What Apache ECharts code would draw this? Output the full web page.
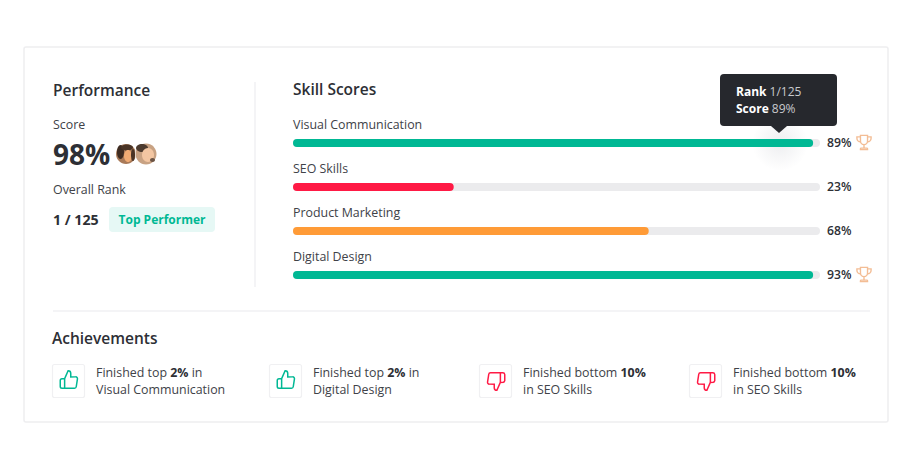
<!DOCTYPE html>
<html>
<head>
<meta charset="utf-8">
<style>
  html, body { margin: 0; padding: 0; background: #fff; }
  #chart { width: 914px; height: 470px; }
</style>
<script src="https://cdn.jsdelivr.net/npm/echarts@6/dist/echarts.min.js"></script>
</head>
<body>
<div id="chart"></div>
<script>
(function() {
  var font = '"Open Sans", "Noto Sans", sans-serif';
  var ink = '#2d2f35';
  var body = '#404248';
  var teal = '#00b894';
  var red = '#ff1a45';
  var orange = '#ff9b37';
  var track = '#ebebed';
  var line = '#f1f1f3';

  // --- Skill data ---
  var categories = ['Visual Communication', 'SEO Skills', 'Product Marketing', 'Digital Design'];
  var fillValues = [98.7, 30.5, 67.5, 98.7];   // drawn bar length, does not follow the printed score
  var scoreLabels = ['89%', '23%', '68%', '93%'];
  var barColors = [teal, red, orange, teal];
  var hasTrophy = [true, false, false, true];
  var trackValues = [100, 100, 100, 100];

  // --- Achievements ---
  var achieveFirst = [
    ['Finished top ', '2%', ' in'],
    ['Finished top ', '2%', ' in'],
    ['Finished bottom ', '10%', ''],
    ['Finished bottom ', '10%', '']
  ];
  var achieveSecond = ['Visual Communication', 'Digital Design', 'in SEO Skills', 'in SEO Skills'];
  var achieveUp = [true, true, false, false];
  var achieveX = [52, 269, 479, 689];

  // the graphic component has no plain path type, so register the icons as shapes
  var reg = echarts.graphic;
  reg.registerShape('thumbUp', reg.extendPath('M14 9V5a3 3 0 0 0-3-3l-4 9v11h11.28a2 2 0 0 0 2-1.7l1.38-9a2 2 0 0 0-2-2.3zM7 22H4a2 2 0 0 1-2-2v-7a2 2 0 0 1 2-2h3', {}));
  reg.registerShape('thumbDown', reg.extendPath('M10 15v4a3 3 0 0 0 3 3l4-9V2H5.72a2 2 0 0 0-2 1.7l-1.38 9a2 2 0 0 0 2 2.3zm7-13h2.67A2.31 2.31 0 0 1 22 4v7a2.31 2.31 0 0 1-2.33 2H17', {}));
  reg.registerShape('trophy', reg.extendPath('M7 2h10v8a5 5 0 0 1-10 0zM7 4H2v2a5 5 0 0 0 5 5M17 4h5v2a5 5 0 0 1-5 5M12 15v5M7 22v-1a1 1 0 0 1 1-1h8a1 1 0 0 1 1 1v1z', {}));

  function text(x, y, str, size, weight, color, align) {
    return {
      type: 'text', x: x, y: y, silent: true, z: 10,
      style: {
        text: str, fontSize: size, fontWeight: weight, fontFamily: font,
        fill: color || ink, textVerticalAlign: 'middle', textAlign: align || 'left'
      }
    };
  }

  function richText(x, y, parts) {
    return {
      type: 'text', x: x, y: y, silent: true, z: 10,
      style: {
        text: parts[0] + '{b|' + parts[1] + '}' + parts[2],
        fontSize: 12.4, fontWeight: 400, fontFamily: font, fill: body,
        textVerticalAlign: 'middle',
        rich: { b: { fontSize: 12.4, fontWeight: 700, fontFamily: font, fill: ink } }
      }
    };
  }

  function tipLine(y, key, val) {
    return {
      type: 'text', x: 736, y: y, silent: true, z: 21,
      style: {
        text: '{b|' + key + '} ' + val, fontSize: 12, fontFamily: font, fill: '#c9cace', textVerticalAlign: 'middle',
        rich: { b: { fontSize: 12, fontWeight: 700, fontFamily: font, fill: '#fff' } }
      }
    };
  }

  function icon(shape, cx, cy, size, color, width) {
    var k = size / 24;
    return {
      type: shape, silent: true, z: 10,
      x: cx - size / 2, y: cy - size / 2, scaleX: k, scaleY: k,
      style: { fill: 'none', stroke: color, lineWidth: width / k }
    };
  }

  function blob(cx, cy, rx, ry, color, z) {
    return { type: 'ellipse', silent: true, z: z, shape: { cx: cx, cy: cy, rx: rx, ry: ry }, style: { fill: color } };
  }

  var graphics = [
    // card and dividers
    { type: 'rect', z: -1, silent: true, shape: { x: 24, y: 47, width: 864, height: 375, r: 2 }, style: { fill: '#fff', stroke: '#eeeef0', lineWidth: 1.5 } },
    { type: 'line', silent: true, shape: { x1: 255, y1: 82, x2: 255, y2: 287 }, style: { stroke: line, lineWidth: 1.5 } },
    { type: 'line', silent: true, shape: { x1: 53, y1: 311, x2: 870, y2: 311 }, style: { stroke: line, lineWidth: 1.5 } },

    // left column
    text(53, 90, 'Performance', 15.5, 600),
    text(53, 124.5, 'Score', 12.4, 400, body),
    text(53, 154, '98%', 28, 700),
    text(53, 189, 'Overall Rank', 12.4, 400, body),
    text(53, 219, '1 / 125', 14.2, 700),
    { type: 'rect', silent: true, shape: { x: 109, y: 207, width: 106, height: 25, r: 4 }, style: { fill: '#e6f8f5' } },
    text(162, 219.5, 'Top Performer', 12, 700, teal, 'center'),

    // avatars, rough patches of hair and skin
    blob(126, 154, 10, 10, '#a97a58', 5),
    blob(120.5, 152, 3.5, 7, '#3e2c22', 5),
    blob(127, 147.5, 6, 3, '#4a3426', 5),
    blob(128, 156, 4, 6, '#f0ab74', 5),
    blob(133, 155, 2, 6, '#4a3426', 5),
    blob(146, 154, 11, 11, '#ffffff', 6),
    blob(146, 154, 10.5, 10.5, '#c8a283', 6),
    blob(142, 148, 6, 4, '#4c3a2e', 6),
    blob(148, 155, 6, 7, '#f3c6a2', 6),
    blob(152.5, 160, 2.5, 2, '#6b5344', 6),

    text(293, 89, 'Skill Scores', 15.5, 600),
    text(52, 338, 'Achievements', 15.5, 600),

    // glow under the tooltip
    {
      type: 'circle', silent: true, z: 1,
      shape: { cx: 780, cy: 143, r: 28 },
      style: {
        fill: {
          type: 'radial', x: 0.5, y: 0.5, r: 0.5,
          colorStops: [{ offset: 0, color: 'rgba(40,45,70,0.08)' }, { offset: 1, color: 'rgba(40,45,70,0)' }]
        }
      }
    },

    // tooltip
    { type: 'rect', silent: true, z: 20, shape: { x: 720, y: 74, width: 117, height: 52, r: 4 }, style: { fill: '#26282d' } },
    { type: 'polygon', silent: true, z: 20, shape: { points: [[771, 126], [787, 126], [779, 133]] }, style: { fill: '#26282d' } },
    tipLine(91, 'Rank', '1/125'),
    tipLine(108.5, 'Score', '89%')
  ];

  // trophies sit after the printed score
  hasTrophy.forEach(function(on, i) {
    if (on) graphics.push(icon('trophy', 864, 142.5 + i * 44, 17, '#f3bd95', 1.4));
  });

  // achievement cards
  achieveX.forEach(function(x, i) {
    graphics.push({
      type: 'rect', silent: true,
      shape: { x: x + 0.5, y: 364.5, width: 32, height: 33, r: 2 },
      style: { fill: '#fff', stroke: '#f0f0f2', lineWidth: 1.2 }
    });
    graphics.push(icon(achieveUp[i] ? 'thumbUp' : 'thumbDown', x + 17, achieveUp[i] ? 379.5 : 381.5, 21, achieveUp[i] ? teal : red, 1.5));
    graphics.push(richText(x + 44, 372.5, achieveFirst[i]));
    graphics.push(text(x + 44, 389.5, achieveSecond[i], 12.4, 400, body));
  });

  var chart = echarts.init(document.getElementById('chart'), null, { renderer: 'svg' });
  chart.setOption({
    animation: false,
    grid: { left: 293, top: 121, width: 527, height: 176 },
    xAxis: { type: 'value', min: 0, max: 100, show: false },
    yAxis: { type: 'category', data: categories, inverse: true, show: false },
    series: [
      {
        name: 'Track',
        type: 'bar',
        barWidth: 8,
        barGap: '-100%',
        silent: true,
        itemStyle: { color: track, borderRadius: 4 },
        label: {
          show: true,
          position: 'right',
          distance: 7,
          offset: [0, -0.5],
          fontFamily: font,
          fontSize: 12.2,
          fontWeight: 600,
          color: ink,
          formatter: function(p) { return scoreLabels[p.dataIndex]; }
        },
        data: trackValues
      },
      {
        name: 'Score',
        type: 'bar',
        barWidth: 8,
        silent: true,
        itemStyle: { borderRadius: 4 },
        label: {
          show: true,
          position: 'insideLeft',
          distance: 0,
          offset: [0, -19],
          fontFamily: font,
          fontSize: 12.4,
          color: body,
          formatter: '{b}'
        },
        data: fillValues.map(function(v, i) {
          return { value: v, itemStyle: { color: barColors[i] } };
        })
      }
    ],
    graphic: { elements: graphics }
  });
})();
</script>
</body>
</html>
